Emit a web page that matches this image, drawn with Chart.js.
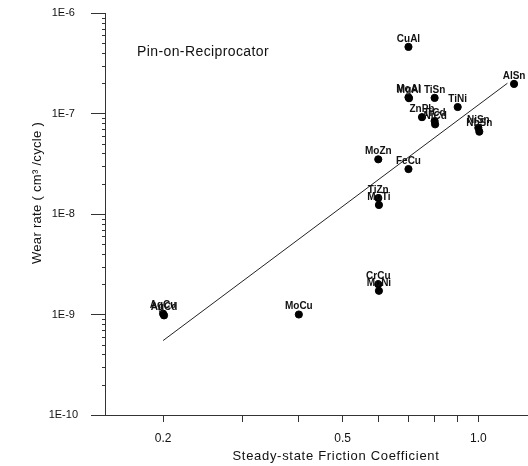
<!DOCTYPE html>
<html>
<head>
<meta charset="utf-8">
<script src="https://cdn.jsdelivr.net/npm/chart.js@4"></script>
<style>
    body { margin: 0; background: #fff; }
</style>
</head>
<body>
<canvas id="wearChart" width="528" height="466"></canvas>
<script>
// couples measured on the pin-on-reciprocator
var couples = ['CuAl', 'MoAl', 'MgAl', 'TiSn', 'TiNi', 'AlSn', 'ZnPb', 'TiCd', 'NiCd', 'NiSn', 'NbSn',
    'MoZn', 'FeCu', 'TiZn', 'MoTi', 'CrCu', 'MoNi', 'AgCu', 'AgCd', 'MoCu'];
var friction = [0.7, 0.7, 0.702, 0.8, 0.9, 1.2, 0.75, 0.8, 0.802, 1.0, 1.005,
    0.6, 0.7, 0.6, 0.602, 0.6, 0.602, 0.2, 0.201, 0.4];
var wearRate = [4.6e-7, 1.45e-7, 1.42e-7, 1.43e-7, 1.16e-7, 1.97e-7, 9.2e-8, 8.4e-8, 7.8e-8, 7.2e-8, 6.6e-8,
    3.5e-8, 2.8e-8, 1.44e-8, 1.23e-8, 2.0e-9, 1.72e-9, 1.02e-9, 0.98e-9, 1.0e-9];

// fitted line end points
var fitFriction = [0.2, 1.16];
var fitWear = [5.5e-10, 2.0e-7];

// axis ticks
var xTicks = [0.2, 0.3, 0.4, 0.5, 0.6, 0.7, 0.8, 0.9, 1.0];
var xTickLabels = ['0.2', '', '', '0.5', '', '', '', '', '1.0'];
var yDecades = [1e-10, 1e-9, 1e-8, 1e-7, 1e-6];
var yDecadeLabels = ['1E-10', '1E-9', '1E-8', '1E-7', '1E-6'];

var FONT = "'Liberation Sans', Arial, sans-serif";

function toPoints(xs, ys) {
    let pts = [];
    for (let i = 0; i < xs.length; i++) {
        pts.push({ x: xs[i], y: ys[i] });
    }
    return pts;
}

// y ticks: every decade plus the 2..9 minor steps in between
function yTickList() {
    let list = [];
    for (let i = 0; i < yDecades.length; i++) {
        list.push({ value: yDecades[i], major: true });
        if (i < yDecades.length - 1) {
            for (let m = 2; m <= 9; m++) {
                list.push({ value: yDecades[i] * m, major: false });
            }
        }
    }
    return list;
}

function isDecade(v) {
    let e = Math.log10(v);
    return Math.abs(e - Math.round(e)) < 1e-6;
}

// names above each point, minor ticks and the free text
const textPlugin = {
    id: 'textPlugin',
    afterDatasetsDraw(chart) {
        const ctx = chart.ctx;
        const meta = chart.getDatasetMeta(0);
        ctx.save();
        ctx.fillStyle = '#111';
        ctx.font = 'bold 10px ' + FONT;
        ctx.textAlign = 'center';
        ctx.textBaseline = 'middle';
        meta.data.forEach(function (pt, i) {
            ctx.fillText(couples[i], pt.x, pt.y - 8);
        });
        ctx.restore();
    },
    afterDraw(chart) {
        const ctx = chart.ctx;
        const y = chart.scales.y;
        const area = chart.chartArea;
        ctx.save();
        ctx.strokeStyle = '#333';
        ctx.lineWidth = 1;
        y.ticks.forEach(function (t) {
            if (!t.major) {
                let py = Math.round(y.getPixelForValue(t.value)) + 0.5;
                ctx.beginPath();
                ctx.moveTo(area.left - 3, py);
                ctx.lineTo(area.left + 1, py);
                ctx.stroke();
            }
        });

        ctx.fillStyle = '#111';
        ctx.textBaseline = 'middle';
        ctx.font = '14px ' + FONT;
        ctx.letterSpacing = '0.4px';
        ctx.textAlign = 'left';
        ctx.fillText('Pin-on-Reciprocator', 137, 52);

        ctx.font = '13px ' + FONT;
        ctx.letterSpacing = '0.7px';
        ctx.textAlign = 'center';
        ctx.fillText('Steady-state Friction Coefficient', 336, 456);

        ctx.letterSpacing = '0.3px';
        ctx.translate(37, 193);
        ctx.rotate(-Math.PI / 2);
        ctx.fillText('Wear rate ( cm³ /cycle )', 0, 0);
        ctx.restore();
    }
};

new Chart(document.getElementById('wearChart'), {
    type: 'scatter',
    data: {
        datasets: [{
            label: 'Couples',
            data: toPoints(friction, wearRate),
            backgroundColor: '#000',
            borderColor: '#000',
            pointRadius: 3.6,
            pointHoverRadius: 3.6
        }, {
            label: 'Fit',
            data: toPoints(fitFriction, fitWear),
            showLine: true,
            borderColor: '#222',
            borderWidth: 1,
            pointRadius: 0
        }]
    },
    options: {
        responsive: false,
        animation: false,
        devicePixelRatio: 1,
        layout: { autoPadding: false, padding: { top: 13, right: 1, left: 0, bottom: 0 } },
        plugins: {
            legend: { display: false },
            tooltip: { enabled: false }
        },
        scales: {
            x: {
                type: 'logarithmic',
                min: 0.1487,
                max: 1.282,
                afterBuildTicks: function (scale) {
                    scale.ticks = xTicks.map(function (v) { return { value: v }; });
                },
                afterFit: function (scale) {
                    scale.height = 51;
                    scale.paddingLeft = 0;
                    scale.paddingRight = 0;
                },
                ticks: {
                    autoSkip: false,
                    maxRotation: 0,
                    padding: 9,
                    color: '#111',
                    font: { family: FONT, size: 12 },
                    callback: function (value) {
                        let i = xTicks.findIndex(function (t) { return Math.abs(t - value) < 1e-6; });
                        return i >= 0 ? xTickLabels[i] : '';
                    }
                },
                grid: { drawOnChartArea: false, tickLength: 7, tickColor: '#333' },
                border: { color: '#333', width: 1 }
            },
            y: {
                type: 'logarithmic',
                min: 1e-10,
                max: 1e-6,
                afterBuildTicks: function (scale) {
                    scale.ticks = yTickList();
                },
                afterFit: function (scale) {
                    scale.width = 105;
                    scale.paddingTop = 0;
                    scale.paddingBottom = 0;
                },
                ticks: {
                    autoSkip: false,
                    crossAlign: 'center',
                    padding: 13,
                    color: '#111',
                    font: { family: FONT, size: 11 },
                    callback: function (value) {
                        if (!isDecade(value)) return '';
                        let i = yDecades.findIndex(function (d) { return Math.abs(Math.log10(d) - Math.log10(value)) < 1e-6; });
                        return yDecadeLabels[i];
                    }
                },
                grid: {
                    drawOnChartArea: false,
                    tickLength: 14,
                    tickColor: function (ctx) {
                        return ctx.tick && ctx.tick.major ? '#333' : 'rgba(0,0,0,0)';
                    }
                },
                border: { color: '#333', width: 1 }
            }
        }
    },
    plugins: [textPlugin]
});
</script>
</body>
</html>
